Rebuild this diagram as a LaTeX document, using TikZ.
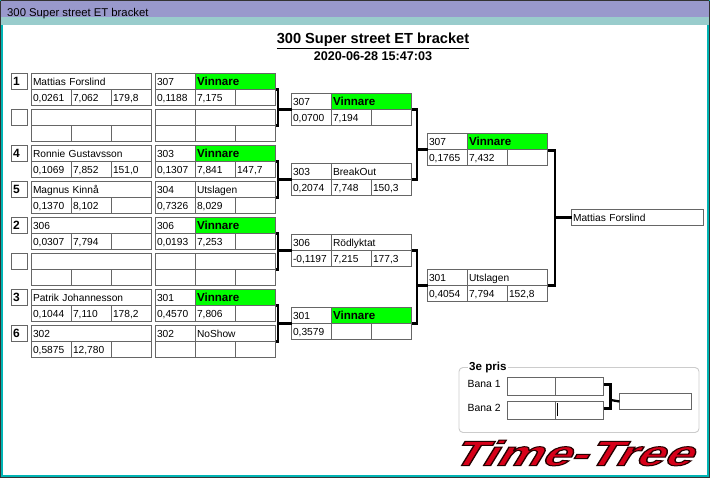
\documentclass[tikz,border=0pt]{standalone}
\usepackage{fontspec}
\setmainfont{Liberation Sans}
\newfontfamily\logofont[FakeSlant=0.42]{Liberation Sans}
\usepackage{tikz}

\definecolor{cellgrey}{RGB}{102,102,102}
\definecolor{barpurple}{RGB}{153,153,204}
\definecolor{barteal}{RGB}{153,204,204}
\definecolor{frameteal}{RGB}{0,180,180}
\definecolor{logored}{RGB}{215,0,25}

\tikzset{
  cell/.style={draw=cellgrey, line width=0.9pt, rectangle, anchor=north west, inner xsep=1.5pt, inner ysep=0pt,
    outer sep=0pt, minimum height=16pt, text width=#1, text height=9.5pt, text depth=2pt, font=\fontsize{10.2}{12}\selectfont},
  plain/.style={},
  winner/.style={fill=green, font=\fontsize{11.6}{12}\selectfont\bfseries},
  seed/.style={font=\fontsize{12}{12}\selectfont\bfseries},
  bracketline/.style={black, line width=2.3pt},
}

\begin{document}
\begin{tikzpicture}[x=1pt, y=-1pt]

\useasboundingbox (0,0) rectangle (710,478);

% window frame and title bar
\fill[frameteal] (0,0) rectangle (710,478);
\fill[white] (3,25) rectangle (707,475);
\fill[barpurple] (1,1) rectangle (709,17);
\fill[barteal] (1,17) rectangle (709,25);
\draw[black!80, line width=1pt] (0.5,1) -- (0.5,477.5) -- (709.5,477.5) -- (709.5,1);
\draw[black!80, line width=1pt] (1,0.5) -- (709,0.5);

\path
(7,14) node (windowtitle) [anchor=west, inner sep=0pt, font=\fontsize{11.3}{12}\selectfont]{300 Super street ET bracket}
(373,41) node (maintitle) [inner sep=0pt, font=\fontsize{14.6}{15}\selectfont\bfseries]{\underline{300 Super street ET bracket}}
(373,56) node (datetime) [inner sep=0pt, font=\fontsize{12.6}{13}\selectfont\bfseries]{2020-06-28 15:47:03};

%% first column, drivers with their seed
\foreach \id/\yy/\seednum/\driver/\ra/\rb/\rc in {
  1/73.5/1/Mattias Forslind/{0,0261}/{7,062}/{179,8},
  2/109.5/{}/{}/{}/{}/{},
  3/145.5/4/Ronnie Gustavsson/{0,1069}/{7,852}/{151,0},
  4/181.5/5/Magnus Kinnå/{0,1370}/{8,102}/{},
  5/217.5/2/306/{0,0307}/{7,794}/{},
  6/253.5/{}/{}/{}/{}/{},
  7/289.5/3/Patrik Johannesson/{0,1044}/{7,110}/{178,2},
  8/325.5/6/302/{0,5875}/{12,780}/{}}
  {
  \node (seed\id) [cell=13pt, seed] at (11.5,\yy) {\seednum};
  \node (driver\id) [cell=117pt] at (31.5,\yy) {\driver};
  \node (driver\id a) [cell=37pt] at (driver\id.south west) {\ra};
  \node (driver\id b) [cell=37pt] at (driver\id a.north east) {\rb};
  \node (driver\id c) [cell=37pt] at (driver\id b.north east) {\rc};
  }

%% all rounds, car number + status on top, three times below
\foreach \nm/\xx/\yy/\car/\status/\look/\ra/\rb/\rc in {
  q1/155.5/73.5/307/Vinnare/winner/{0,1188}/{7,175}/{},
  q2/155.5/109.5/{}/{}/plain/{}/{}/{},
  q3/155.5/145.5/303/Vinnare/winner/{0,1307}/{7,841}/{147,7},
  q4/155.5/181.5/304/Utslagen/plain/{0,7326}/{8,029}/{},
  q5/155.5/217.5/306/Vinnare/winner/{0,0193}/{7,253}/{},
  q6/155.5/253.5/{}/{}/plain/{}/{}/{},
  q7/155.5/289.5/301/Vinnare/winner/{0,4570}/{7,806}/{},
  q8/155.5/325.5/302/NoShow/plain/{}/{}/{},
  k1/291.5/93.5/307/Vinnare/winner/{0,0700}/{7,194}/{},
  k2/291.5/163.5/303/BreakOut/plain/{0,2074}/{7,748}/{150,3},
  k3/291.5/234.5/306/Rödlyktat/plain/{-0,1197}/{7,215}/{177,3},
  k4/291.5/307.5/301/Vinnare/winner/{0,3579}/{}/{},
  s1/427.5/133.5/307/Vinnare/winner/{0,1765}/{7,432}/{},
  s2/427.5/269.5/301/Utslagen/plain/{0,4054}/{7,794}/{152,8}}
  {
  \node (\nm n) [cell=37pt] at (\xx,\yy) {\car};
  \node (\nm s) [cell=77pt, \look] at (\nm n.north east) {\status};
  \node (\nm a) [cell=37pt] at (\nm n.south west) {\ra};
  \node (\nm b) [cell=37pt] at (\nm a.north east) {\rb};
  \node (\nm c) [cell=37pt] at (\nm b.north east) {\rc};
  }

\node (champion) [cell=129pt] at (571.5,209.5) {Mattias Forslind};

%% bracket lines
\coordinate (joinA) at (278,109.5);
\coordinate (joinB) at (278,179.5);
\coordinate (joinC) at (278,250.5);
\coordinate (joinD) at (278,323.5);
\coordinate (joinE) at (417,149.5);
\coordinate (joinF) at (417,285.5);
\coordinate (joinG) at (555,217.5);

\draw[bracketline] (q1s.south east) -| (joinA) |- (q2s.south east);
\draw[bracketline] (joinA) -- (k1n.south west);
\draw[bracketline] (q3s.south east) -| (joinB) |- (q4s.south east);
\draw[bracketline] (joinB) -- (k2n.south west);
\draw[bracketline] (q5s.south east) -| (joinC) |- (q6s.south east);
\draw[bracketline] (joinC) -- (k3n.south west);
\draw[bracketline] (q7s.south east) -| (joinD) |- (q8s.south east);
\draw[bracketline] (joinD) -- (k4n.south west);
\draw[bracketline] (k1s.south east) -| (joinE) |- (k2s.south east);
\draw[bracketline] (joinE) -- (s1n.south west);
\draw[bracketline] (k3s.south east) -| (joinF) |- (k4s.south east);
\draw[bracketline] (joinF) -- (s2n.south west);
\draw[bracketline] ([yshift=-1pt]s1s.south east) -| (joinG) |- (s2s.south east);
\draw[bracketline] (joinG) -- (champion.west);

%% third place
\draw[black!20, line width=0.9pt, rounded corners=4pt] (459,367.5) rectangle (699,432.5);
\path
(468,367.5) node (thirdprize) [anchor=west, fill=white, inner xsep=1pt, inner ysep=0pt, font=\fontsize{11.6}{12}\selectfont\bfseries]{3e pris}
(467.5,384) node (lane1) [anchor=west, inner sep=0pt, font=\fontsize{10.4}{12}\selectfont]{Bana 1}
(467.5,408) node (lane2) [anchor=west, inner sep=0pt, font=\fontsize{10.4}{12}\selectfont]{Bana 2};

\foreach \nm/\yy in {bana1/377.5, bana2/401.5}
  {
  \node (\nm a) [cell=45pt, minimum height=18pt] at (507.5,\yy) {};
  \node (\nm b) [cell=45pt, minimum height=18pt] at (\nm a.north east) {};
  }
\node (thirdwinner) [cell=69pt] at (619.5,393.5) {};

\coordinate (joinH) at (610.5,400);
\draw[bracketline] ([yshift=2pt]bana1b.east) -| (joinH) |- ([yshift=2pt]bana2b.east);
\draw[bracketline] (joinH) -- (thirdwinner.west);

\coordinate (cursortop) at (557.5,403);
\coordinate (cursorend) at (557.5,416.5);
\draw[black, line width=1pt] (cursortop) -- (cursorend);

% logo
\node (logo) [inner sep=0pt, text=logored, font=\logofont\bfseries\fontsize{35}{36}\selectfont] at (570,453)
  {\special{pdf:code 2 Tr 1 w 0.15 0 0 RG}\scalebox{1.46}[1]{Time-Tree}\special{pdf:code 0 Tr 0 w}};

\end{tikzpicture}
\end{document}
